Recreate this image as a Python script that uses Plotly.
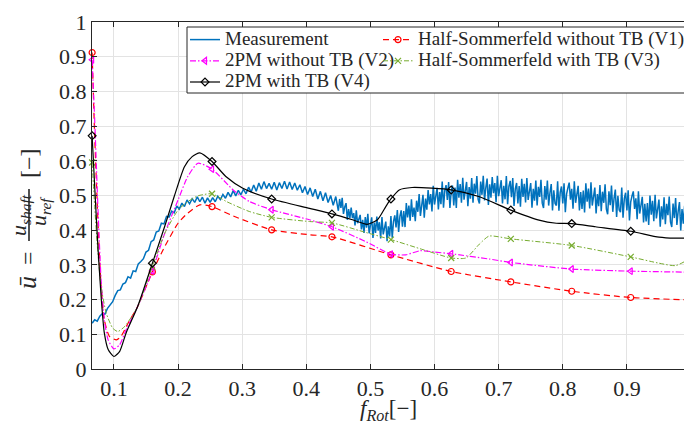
import plotly.graph_objects as go

# ---------------- data ----------------
# measurement, part 1: x = 0.066 ... 0.446 (step 0.004)
meas1_start, meas1_step = 0.066, 0.004
meas1_y = [
    0.132, 0.142, 0.138, 0.152, 0.160, 0.158, 0.175, 0.185, 0.194, 0.212,
    0.226, 0.228, 0.245, 0.249, 0.266, 0.262, 0.283, 0.281, 0.303, 0.310,
    0.318, 0.337, 0.342, 0.367, 0.372, 0.395, 0.398, 0.420, 0.418, 0.440,
    0.438, 0.455, 0.450, 0.470, 0.461, 0.478, 0.468, 0.487, 0.476, 0.491,
    0.480, 0.496, 0.482, 0.495, 0.478, 0.493, 0.480, 0.494, 0.482, 0.498,
    0.488, 0.503, 0.492, 0.509, 0.496, 0.514, 0.499, 0.515, 0.502, 0.518,
    0.505, 0.524, 0.510, 0.530, 0.512, 0.536, 0.518, 0.540, 0.520, 0.535,
    0.518, 0.538, 0.516, 0.537, 0.520, 0.541, 0.519, 0.539, 0.517, 0.536,
    0.515, 0.531, 0.508, 0.526, 0.503, 0.522, 0.497, 0.518, 0.490, 0.512,
    0.485, 0.508, 0.480, 0.500, 0.472, 0.497,
]
# measurement, part 2: x = 0.450 ... 0.998 (step 0.002)
meas2_start, meas2_step = 0.450, 0.002
meas2_y = [
    0.456, 0.490, 0.464, 0.493, 0.447, 0.467, 0.478, 0.430, 0.461, 0.435,
    0.465, 0.435, 0.449, 0.414, 0.457, 0.420, 0.430, 0.444, 0.402, 0.430,
    0.392, 0.438, 0.407, 0.447, 0.391, 0.418, 0.437, 0.378, 0.422, 0.392,
    0.439, 0.399, 0.423, 0.376, 0.438, 0.388, 0.405, 0.425, 0.368, 0.411,
    0.382, 0.441, 0.378, 0.425, 0.443, 0.408, 0.458, 0.395, 0.440, 0.457,
    0.410, 0.455, 0.409, 0.478, 0.437, 0.471, 0.427, 0.489, 0.438, 0.465,
    0.426, 0.485, 0.453, 0.504, 0.441, 0.478, 0.502, 0.436, 0.491, 0.459,
    0.516, 0.474, 0.504, 0.454, 0.528, 0.474, 0.496, 0.522, 0.460, 0.510,
    0.475, 0.540, 0.465, 0.514, 0.530, 0.487, 0.539, 0.464, 0.512, 0.529,
    0.471, 0.523, 0.464, 0.545, 0.494, 0.533, 0.479, 0.551, 0.488, 0.518,
    0.539, 0.469, 0.524, 0.491, 0.550, 0.479, 0.534, 0.505, 0.556, 0.489,
    0.477, 0.540, 0.502, 0.557, 0.486, 0.523, 0.549, 0.473, 0.532, 0.494,
    0.553, 0.507, 0.536, 0.481, 0.557, 0.498, 0.519, 0.544, 0.477, 0.528,
    0.489, 0.556, 0.475, 0.526, 0.542, 0.495, 0.550, 0.470, 0.519, 0.536,
    0.477, 0.527, 0.468, 0.548, 0.496, 0.534, 0.480, 0.550, 0.487, 0.516,
    0.536, 0.465, 0.519, 0.485, 0.543, 0.471, 0.525, 0.496, 0.545, 0.478,
    0.464, 0.527, 0.488, 0.543, 0.471, 0.508, 0.533, 0.457, 0.515, 0.477,
    0.471, 0.541, 0.456, 0.509, 0.526, 0.477, 0.535, 0.452, 0.505, 0.522,
    0.537, 0.488, 0.519, 0.462, 0.541, 0.479, 0.501, 0.528, 0.457, 0.510,
    0.461, 0.514, 0.451, 0.535, 0.482, 0.520, 0.463, 0.538, 0.471, 0.502,
    0.523, 0.448, 0.504, 0.469, 0.530, 0.455, 0.511, 0.479, 0.532, 0.461,
    0.446, 0.512, 0.472, 0.529, 0.453, 0.492, 0.517, 0.438, 0.499, 0.458,
    0.452, 0.523, 0.436, 0.491, 0.508, 0.457, 0.515, 0.428, 0.482, 0.499,
    0.512, 0.461, 0.492, 0.432, 0.512, 0.448, 0.470, 0.496, 0.422, 0.476,
    0.425, 0.478, 0.415, 0.500, 0.445, 0.485, 0.426, 0.502, 0.434, 0.465,
    0.488, 0.410, 0.469, 0.431, 0.495, 0.417, 0.476, 0.443, 0.497, 0.424,
    0.409, 0.477, 0.435, 0.493, 0.415, 0.455, 0.481, 0.399, 0.461, 0.419,
    0.470, 0.405, 0.495, 0.378, 0.462,
]
meas_x = ([round(meas1_start + meas1_step * i, 4) for i in range(len(meas1_y))]
          + [round(meas2_start + meas2_step * i, 4) for i in range(len(meas2_y))])
meas_y = meas1_y + meas2_y

v1_x = [0.066, 0.070, 0.075, 0.080, 0.085, 0.093, 0.104, 0.111, 0.122, 0.137,
        0.160, 0.179, 0.200, 0.215, 0.234, 0.253, 0.286, 0.346, 0.405, 0.440,
        0.532, 0.626, 0.719, 0.814, 0.906, 1.000]
v1_y = [0.912, 0.670, 0.430, 0.238, 0.142, 0.094, 0.084, 0.094, 0.132, 0.180,
        0.280, 0.352, 0.420, 0.449, 0.473, 0.468, 0.441, 0.401, 0.387, 0.381,
        0.329, 0.281, 0.251, 0.224, 0.206, 0.199]

v2_x = [0.066, 0.070, 0.075, 0.080, 0.085, 0.091, 0.100, 0.109, 0.119, 0.137,
        0.160, 0.179, 0.200, 0.215, 0.231, 0.253, 0.286, 0.311, 0.346, 0.405,
        0.440, 0.493, 0.532, 0.555, 0.578, 0.600, 0.626, 0.685, 0.719, 0.814,
        0.906, 1.000]
v2_y = [0.891, 0.717, 0.468, 0.257, 0.142, 0.084, 0.058, 0.070, 0.113, 0.180,
        0.283, 0.390, 0.487, 0.554, 0.593, 0.576, 0.516, 0.483, 0.459, 0.430,
        0.410, 0.367, 0.331, 0.329, 0.341, 0.337, 0.332, 0.317, 0.307, 0.288,
        0.282, 0.279]

v3_x = [0.066, 0.070, 0.075, 0.080, 0.088, 0.098, 0.106, 0.117, 0.137, 0.160,
        0.179, 0.200, 0.215, 0.231, 0.253, 0.275, 0.311, 0.346, 0.405, 0.440,
        0.490, 0.532, 0.582, 0.626, 0.649, 0.670, 0.685, 0.719, 0.814, 0.906,
        0.950, 0.976, 1.000]
v3_y = [0.595, 0.468, 0.334, 0.238, 0.161, 0.118, 0.108, 0.123, 0.180, 0.295,
        0.390, 0.458, 0.482, 0.499, 0.505, 0.483, 0.454, 0.437, 0.425, 0.421,
        0.395, 0.373, 0.344, 0.320, 0.320, 0.360, 0.383, 0.375, 0.356, 0.323,
        0.305, 0.298, 0.320]

v4_x = [0.066, 0.070, 0.075, 0.080, 0.085, 0.091, 0.100, 0.109, 0.119, 0.137,
        0.160, 0.179, 0.194, 0.210, 0.222, 0.234, 0.253, 0.275, 0.301, 0.346,
        0.405, 0.440, 0.472, 0.495, 0.511, 0.524, 0.532, 0.545, 0.565, 0.596,
        0.626, 0.669, 0.719, 0.763, 0.790, 0.814, 0.851, 0.906, 0.950, 0.975,
        1.000]
v4_y = [0.672, 0.526, 0.353, 0.209, 0.104, 0.056, 0.036, 0.051, 0.104, 0.180,
        0.305, 0.410, 0.497, 0.583, 0.612, 0.623, 0.598, 0.554, 0.521, 0.490,
        0.463, 0.447, 0.430, 0.417, 0.430, 0.468, 0.490, 0.516, 0.523, 0.521,
        0.516, 0.497, 0.458, 0.429, 0.420, 0.419, 0.410, 0.397, 0.380, 0.377,
        0.378]

mark_x = [0.066, 0.160, 0.253, 0.346, 0.440, 0.532, 0.626, 0.719, 0.814, 0.906, 1.000]
v1_mark = [0.912, 0.280, 0.468, 0.401, 0.381, 0.329, 0.281, 0.251, 0.224, 0.206, 0.199]
v2_mark = [0.891, 0.283, 0.576, 0.459, 0.410, 0.331, 0.332, 0.307, 0.288, 0.282, 0.279]
v3_mark = [0.595, 0.295, 0.505, 0.437, 0.421, 0.373, 0.320, 0.375, 0.356, 0.323, 0.320]
v4_mark = [0.672, 0.305, 0.598, 0.490, 0.447, 0.490, 0.516, 0.458, 0.419, 0.397, 0.378]

x_ticks = [0.1, 0.2, 0.3, 0.4, 0.5, 0.6, 0.7, 0.8, 0.9, 1.0]
y_ticks = [0, 0.1, 0.2, 0.3, 0.4, 0.5, 0.6, 0.7, 0.8, 0.9, 1.0]

names = ["Measurement", "Half-Sommerfeld without TB (V1)", "2PM without TB (V2)",
         "Half-Sommerfeld with TB (V3)", "2PM with TB (V4)"]

# ---------------- styling ----------------
FONT = "Liberation Serif"
TXT = "#262626"
PAGE_W, PAGE_H = 692, 425
OFF = 8                      # default body margin of the html page
W, H = PAGE_W - OFF, PAGE_H - OFF
# plot area in page pixels
P_L, P_R, P_T, P_B = 92, 691, 22, 369
ML, MT = P_L - OFF, P_T - OFF
MR = (OFF + W) - P_R
MB = (OFF + H) - P_B
PW, PH = P_R - P_L, P_B - P_T

def px2paper_x(px):
    return (px - P_L) / PW

def px2paper_y(py):
    return (P_B - py) / PH

def legend_label(s):
    return f'<span style="font-size:19px">{s}</span>'

models = [
    dict(x=v1_x, y=v1_y, m=v1_mark, name=names[1], color="#FF0000", dash="6px,4px",
         width=1.2, symbol="circle-open", size=6, legend="legend2"),
    dict(x=v2_x, y=v2_y, m=v2_mark, name=names[2], color="#FF00FF", dash="6px,2px,1.5px,2px",
         width=1.2, symbol="triangle-left-open", size=6, legend="legend"),
    dict(x=v3_x, y=v3_y, m=v3_mark, name=names[3], color="#77AC30", dash="5px,2px,1.5px,2px",
         width=1.0, symbol="x-thin-open", size=6, legend="legend2"),
    dict(x=v4_x, y=v4_y, m=v4_mark, name=names[4], color="#000000", dash="solid",
         width=1.2, symbol="diamond-open", size=6, legend="legend"),
]

fig = go.Figure()

fig.add_trace(go.Scatter(x=meas_x, y=meas_y, mode="lines", name=legend_label(names[0]),
                         line=dict(color="#0072BD", width=1.5), legend="legend"))

for md in models:
    fig.add_trace(go.Scatter(x=md["x"], y=md["y"], mode="lines", showlegend=False,
                             line=dict(color=md["color"], width=md["width"], dash=md["dash"],
                                       shape="spline", smoothing=0.6)))
    fig.add_trace(go.Scatter(x=mark_x, y=md["m"], mode="markers", showlegend=False,
                             marker=dict(symbol=md["symbol"], size=md["size"], color=md["color"],
                                         line=dict(width=1.2, color=md["color"])),
                             cliponaxis=False))

for md in [models[1], models[3], models[0], models[2]]:
    fig.add_trace(go.Scatter(x=[None], y=[None], mode="lines+markers",
                             name=legend_label(md["name"]), legend=md["legend"],
                             line=dict(color=md["color"], width=md["width"], dash=md["dash"]),
                             marker=dict(symbol=md["symbol"], size=md["size"], color=md["color"],
                                         line=dict(width=1.2, color=md["color"]))))

axis_common = dict(
    showgrid=True, gridcolor="#E3E3E3", gridwidth=1,
    showline=True, linecolor=TXT, linewidth=1, mirror="ticks",
    ticks="inside", ticklen=5, tickcolor=TXT, tickwidth=1,
    zeroline=False, automargin=False, ticklabeloverflow="allow",
    tickfont=dict(family=FONT, size=22, color=TXT),
)

legend_common = dict(xanchor="left", yanchor="top", bgcolor="rgba(0,0,0,0)",
                     borderwidth=0, tracegroupgap=0,
                     font=dict(family=FONT, size=14, color=TXT))

fig.update_layout(
    width=W, height=H,
    margin=dict(l=ML, r=MR, t=MT, b=MB, autoexpand=False),
    paper_bgcolor="white", plot_bgcolor="white",
    font=dict(family=FONT, color=TXT),
    xaxis=dict(range=[0.0658, 1.0], tickvals=x_ticks, ticktext=[f"{v:g}" for v in x_ticks],
               **axis_common),
    yaxis=dict(range=[0, 1.0], tickvals=y_ticks, ticktext=[f"{v:g}" for v in y_ticks],
               **axis_common),
    legend=dict(x=px2paper_x(185), y=px2paper_y(24), **legend_common),
    legend2=dict(x=px2paper_x(378), y=px2paper_y(24), **legend_common),
    showlegend=True,
)

# legend frame
fig.add_shape(type="rect", xref="paper", yref="paper",
              x0=px2paper_x(187), x1=px2paper_x(688), y0=px2paper_y(93), y1=px2paper_y(27),
              line=dict(color=TXT, width=1), fillcolor="white", layer="above")

# x-axis label
fig.add_annotation(text="<i>f</i><sub><i>Rot</i></sub>[−]", xref="paper", yref="paper",
                   x=px2paper_x(388), y=px2paper_y(410), showarrow=False,
                   xanchor="center", yanchor="middle",
                   font=dict(family=FONT, size=23, color=TXT))

# y-axis label: u-bar = u_shaft / u_ref [-]
def ann(text, px, py, size):
    fig.add_annotation(text=text, xref="paper", yref="paper",
                       x=px2paper_x(px), y=px2paper_y(py), showarrow=False,
                       textangle=-90, xanchor="center", yanchor="middle",
                       font=dict(family=FONT, size=size, color=TXT))

ann("<i>ū</i>", 27, 283, 26)
ann("=", 28, 258, 24)
ann("<i>u</i><sub><i>shaft</i></sub>", 20, 215, 22)
ann("<i>u</i><sub><i>ref</i></sub>", 40, 211, 22)
ann("[−]", 29, 163, 24)
fig.add_shape(type="line", xref="paper", yref="paper",
              x0=px2paper_x(29), x1=px2paper_x(29), y0=px2paper_y(189), y1=px2paper_y(241),
              line=dict(color=TXT, width=1.6))

fig.write_html("out.html")
